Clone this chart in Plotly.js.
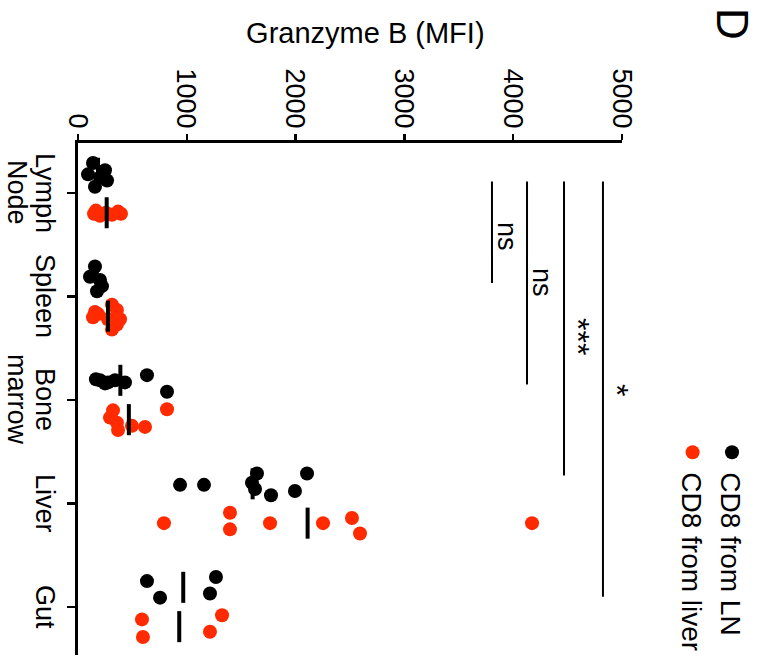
<!DOCTYPE html>
<html>
<head>
<meta charset="utf-8">
<script src="https://cdn.plot.ly/plotly-3.0.1.min.js"></script>
<style>
html,body{margin:0;padding:0;background:#fff;overflow:hidden;width:759px;height:663px;}
#wrap{position:absolute;left:0;top:0;width:663px;height:759px;transform-origin:0 0;transform:translate(759px,0) rotate(90deg);}
#chart{width:663px;height:759px;}
</style>
</head>
<body>
<div id="wrap"><div id="chart"></div></div>
<script>
// ---- data ----
const categories = ['Lymph<br>Node', 'Spleen', 'Bone<br>marrow', 'Liver', 'Gut'];
const seriesNames = ['CD8 from LN', 'CD8 from liver'];
const cd8LN = [
  [138, 92, 248, 267, 156, 202],
  [156, 110, 202, 220, 175],
  [202, 248, 340, 432, 634, 818, 165, 276],
  [938, 1158, 1645, 1599, 1627, 1774, 1994, 2105],
  [634, 754, 1268, 1213]
];
const cd8LNJitter = [
  [-0.29, -0.18, -0.22, -0.12, -0.06, -0.15],
  [-0.29, -0.19, -0.16, -0.10, -0.05],
  [-0.19, -0.16, -0.19, -0.17, -0.24, -0.08, -0.20, -0.17],
  [-0.18, -0.18, -0.29, -0.20, -0.14, -0.08, -0.12, -0.29],
  [-0.25, -0.09, -0.29, -0.13]
];
const cd8Liver = [
  [147, 165, 202, 257, 312, 368, 395],
  [184, 312, 358, 358, 312, 276, 386, 138, 156],
  [322, 294, 358, 368, 496, 616, 818],
  [790, 1397, 1397, 1765, 2252, 2518, 2592, 4173],
  [588, 597, 1324, 1213]
];
const cd8LiverJitter = [
  [0.20, 0.17, 0.22, 0.19, 0.21, 0.18, 0.20],
  [0.17, 0.08, 0.13, 0.27, 0.32, 0.22, 0.22, 0.20, 0.15],
  [0.10, 0.17, 0.22, 0.29, 0.25, 0.26, 0.09],
  [0.19, 0.09, 0.25, 0.19, 0.19, 0.14, 0.29, 0.19],
  [0.12, 0.29, 0.08, 0.24]
];
// significance brackets: from category, to category, level, label
const sigFrom = [-0.11, -0.11, -0.11, -0.11];
const sigTo = [0.87, 1.85, 2.73, 3.90];
const sigLevel = [3805, 4127, 4467, 4825];
const sigLabel = ['ns', 'ns', '***', '*'];
const sigLabelPos = [0.425, 0.86, 1.39, 1.90];
const yTicks = [0, 1000, 2000, 3000, 4000, 5000];

// ---- styling ----
const FONT = 'Liberation Sans, Arial, Helvetica, sans-serif';
const RED = '#ff2a00';
const groupCentre = [-0.19, 0.19];
const meanHalf = 0.15;

function pointsTrace(vals, jit, name, color) {
  const x = [], y = [];
  vals.forEach((arr, ci) => arr.forEach((v, i) => { x.push(ci + jit[ci][i]); y.push(v); }));
  return {type: 'scatter', mode: 'markers', name: name, x: x, y: y,
    marker: {color: color, size: 14, line: {width: 0}}, cliponaxis: false, hoverinfo: 'y'};
}
function meanTrace(vals, gi) {
  const x = [], y = [];
  vals.forEach((arr, ci) => {
    const m = arr.reduce((a, b) => a + b, 0) / arr.length;
    x.push(ci + groupCentre[gi] - meanHalf, ci + groupCentre[gi] + meanHalf, null);
    y.push(m, m, null);
  });
  return {type: 'scatter', mode: 'lines', x: x, y: y, showlegend: false,
    line: {color: '#000', width: 4}, hoverinfo: 'skip', cliponaxis: false};
}

const data = [
  pointsTrace(cd8LN, cd8LNJitter, seriesNames[0], '#000'),
  pointsTrace(cd8Liver, cd8LiverJitter, seriesNames[1], RED),
  meanTrace(cd8LN, 0),
  meanTrace(cd8Liver, 1)
];

const shapes = sigLevel.map((lv, i) => ({type: 'line', xref: 'x', yref: 'y',
  x0: sigFrom[i], x1: sigTo[i], y0: lv, y1: lv, line: {color: '#000', width: 2}}));

const annotations = sigLevel.map((lv, i) => ({xref: 'x', yref: 'y', x: sigLabelPos[i], y: lv,
  text: sigLabel[i], showarrow: false, xanchor: 'center', yanchor: 'bottom',
  yshift: sigLabel[i] === 'ns' ? -2 : -6,
  font: {family: FONT, size: sigLabel[i] === 'ns' ? 27 : 32, color: '#000'}}));

// category labels, one annotation per text line (tighter line spacing than tick labels)
const lineCentres = [-0.0615, -0.1125];
categories.forEach((c, ci) => {
  c.split('<br>').forEach((ln, li) => {
    annotations.push({xref: 'x', yref: 'paper', x: ci, y: lineCentres[li], text: ln,
      showarrow: false, xanchor: 'center', yanchor: 'middle',
      font: {family: FONT, size: 27, color: '#000'}});
  });
});

annotations.push({xref: 'paper', yref: 'paper', x: -0.215, y: 0.5276, text: 'Granzyme B (MFI)',
  textangle: -90, showarrow: false, xanchor: 'center', yanchor: 'middle',
  font: {family: FONT, size: 29, color: '#000'}});
annotations.push({xref: 'paper', yref: 'paper', x: -0.232, y: 1.2035, text: 'D',
  showarrow: false, xanchor: 'center', yanchor: 'middle',
  font: {family: FONT, size: 44, color: '#000'}});

const layout = {
  width: 663, height: 759,
  margin: {l: 143, r: 8, t: 137, b: 78, autoexpand: false},
  paper_bgcolor: '#fff', plot_bgcolor: '#fff',
  font: {family: FONT, size: 27, color: '#000'},
  showlegend: true,
  legend: {xref: 'container', yref: 'container', x: 0.652, y: 0.997, xanchor: 'left', yanchor: 'top',
    font: {family: FONT, size: 28}, bgcolor: 'rgba(0,0,0,0)', itemsizing: 'trace'},
  xaxis: {range: [-0.483, 4.464], tickvals: [0, 1, 2, 3, 4], showticklabels: false,
    showline: true, linewidth: 3, linecolor: '#000', ticks: 'outside', ticklen: 8, tickwidth: 2.5,
    tickcolor: '#000', showgrid: false, zeroline: false, automargin: false},
  yaxis: {range: [0, 5000], tickvals: yTicks, showline: true, linewidth: 3, linecolor: '#000',
    ticks: 'outside', ticklen: 6, tickwidth: 2.5, tickcolor: '#000', showgrid: false, zeroline: false,
    automargin: false, tickfont: {family: FONT, size: 27}},
  shapes: shapes,
  annotations: annotations
};

Plotly.newPlot('chart', data, layout, {displayModeBar: false, staticPlot: true});
</script>
</body>
</html>
